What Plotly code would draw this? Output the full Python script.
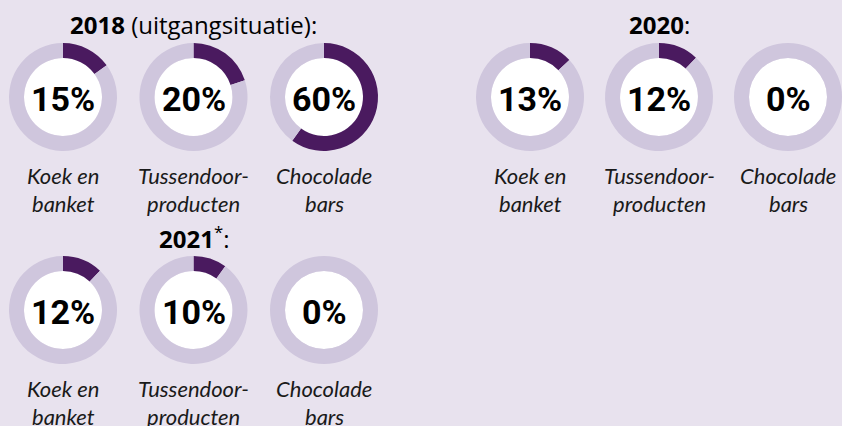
import plotly.graph_objects as go

# Share of products per category, by year
categories = ["Koek en banket", "Tussendoor-producten", "Chocolade bars"]
category_lines = [["Koek en", "banket"], ["Tussendoor-", "producten"], ["Chocolade", "bars"]]
years = ["2018", "2020", "2021"]
headers = ["<b>2018</b> (uitgangsituatie):", "<b>2020</b>:", "<b>2021</b><sup>*</sup>:"]
shares_2018 = [15, 20, 60]
shares_2020 = [13, 12, 0]
shares_2021 = [12, 10, 0]
shares = {"2018": shares_2018, "2020": shares_2020, "2021": shares_2021}

# Page geometry (pixels)
W, H = 842, 426
first_cx = {"2018": 63, "2020": 530, "2021": 63}
row_cy = {"2018": 97, "2020": 97, "2021": 310}
row_step = {"2018": 130.5, "2020": 129, "2021": 130.5}
r_out = 54
r_in = 39

BG = "#E8E2EE"
LIGHT = "#CFC6DD"
DARK = "#4A1A5F"

num_font = dict(family="Roboto, Lato, sans-serif", size=34, color="#000000")
lbl_font = dict(family="Lato, sans-serif", size=22, color="#1a1a1a")
hdr_font = dict(family="Open Sans, Noto Sans, sans-serif", size=24, color="#000000")

fig = go.Figure()
shapes = []
annotations = []


def px(x):
    return min(max(x / W, 0.0), 1.0)


def py(y):
    return min(max(1 - y / H, 0.0), 1.0)


for year in years:
    cy = row_cy[year]
    step = row_step[year]
    for i, cat in enumerate(categories):
        cx = first_cx[year] + i * step
        v = shares[year][i]
        fig.add_trace(go.Pie(
            values=[v, 100 - v],
            labels=["aandeel", "rest"],
            marker=dict(colors=[DARK, LIGHT], line=dict(width=0)),
            hole=r_in / r_out,
            sort=False,
            direction="clockwise",
            rotation=0,
            textinfo="none",
            hoverinfo="skip",
            showlegend=False,
            domain=dict(x=[px(cx - r_out), px(cx + r_out)],
                        y=[py(cy + r_out), py(cy - r_out)]),
        ))
        shapes.append(dict(type="circle", xref="paper", yref="paper",
                           x0=px(cx - r_in), x1=px(cx + r_in),
                           y0=py(cy + r_in), y1=py(cy - r_in),
                           fillcolor="#FFFFFF", line=dict(width=0), layer="below"))
        annotations.append(dict(text=f"<b>{v}%</b>", x=px(cx), y=py(cy + 2),
                                xref="paper", yref="paper", showarrow=False,
                                xanchor="center", yanchor="middle", font=num_font))
        for j, line in enumerate(category_lines[i]):
            annotations.append(dict(text=f"<i>{line}</i>", x=px(cx), y=py(cy + 78 + 28 * j),
                                    xref="paper", yref="paper", showarrow=False,
                                    xanchor="center", yanchor="middle", font=lbl_font))
    # header centred over the middle ring of each row
    annotations.append(dict(text=headers[years.index(year)],
                            x=px(first_cx[year] + step), y=py(cy - 72),
                            xref="paper", yref="paper", showarrow=False,
                            xanchor="center", yanchor="middle", font=hdr_font))

fig.update_layout(
    width=W, height=H,
    margin=dict(l=0, r=0, t=0, b=0),
    paper_bgcolor=BG, plot_bgcolor=BG,
    shapes=shapes, annotations=annotations,
    showlegend=False,
)

fig.write_html("out.html")
